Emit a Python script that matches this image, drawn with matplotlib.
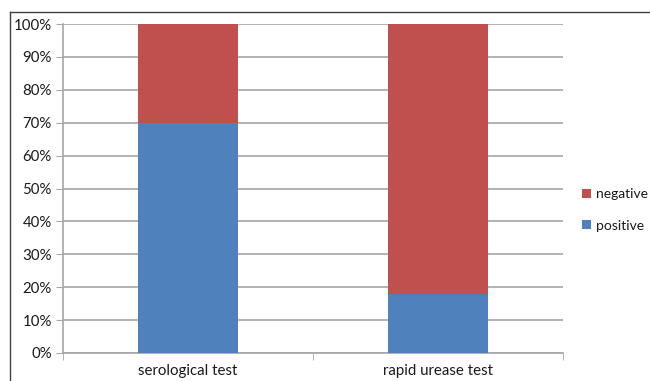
import numpy as np
import matplotlib.pyplot as plt
import matplotlib.ticker as ticker
from matplotlib.lines import Line2D

categories = ["serological test", "rapid urease test"]
positive = [70, 18]
negative = [30, 82]

BLUE = "#4f81bd"
RED = "#c0504d"
GRID = "#a6a6a6"

plt.rcParams['font.family'] = ['Lato', 'DejaVu Sans']
plt.rcParams['text.color'] = '#1a1a1a'
plt.rcParams['xtick.labelcolor'] = '#1a1a1a'
plt.rcParams['ytick.labelcolor'] = '#1a1a1a'

fig = plt.figure(figsize=(6.5, 3.81), dpi=100)
ax = fig.add_axes([63 / 650, 28 / 381, 500 / 650, 329 / 381])

x = np.arange(len(categories))
ax.bar(x, positive, width=0.4, color=BLUE, label="positive", zorder=3)
ax.bar(x, negative, width=0.4, bottom=positive, color=RED,
       label="negative", zorder=3)

ax.set_xlim(-0.5, len(categories) - 0.5)
ax.set_ylim(0, 100)
ax.yaxis.set_major_locator(ticker.MultipleLocator(10))
ax.yaxis.set_major_formatter(ticker.FuncFormatter(lambda v, p: f"{v:.0f}%"))
ax.grid(axis='y', color=GRID, linewidth=1.2, zorder=0)

ax.set_xticks(x)
ax.set_xticklabels(categories)
ax.xaxis.set_minor_locator(ticker.FixedLocator([-0.5, 0.5, 1.5]))
ax.tick_params(axis='x', which='major', length=0, pad=8, labelsize=10.8)
ax.tick_params(axis='x', which='minor', length=5, color=GRID,
               direction='out')
ax.tick_params(axis='y', length=5, color=GRID, labelsize=10.8, pad=3)

for side in ['top', 'right']:
    ax.spines[side].set_visible(False)
for side in ['left', 'bottom']:
    ax.spines[side].set_color(GRID)
    ax.spines[side].set_linewidth(1.2)

handles, labels = ax.get_legend_handles_labels()
fig.legend(handles[::-1], labels[::-1], loc='center left',
           bbox_to_anchor=(582 / 650, 1 - 210 / 381), frameon=False,
           borderpad=0, borderaxespad=0,
           fontsize=10, handlelength=0.65, handleheight=0.65,
           handletextpad=0.35, labelspacing=1.4)

# outer frame: left and top edges
fig.add_artist(Line2D([10 / 650, 10 / 650], [0, 1 - 12 / 381],
                      color="#404040", linewidth=1.0))
fig.add_artist(Line2D([10 / 650, 1], [1 - 12 / 381, 1 - 12 / 381],
                      color="#404040", linewidth=1.0))

fig.savefig("out.png", dpi=100)
